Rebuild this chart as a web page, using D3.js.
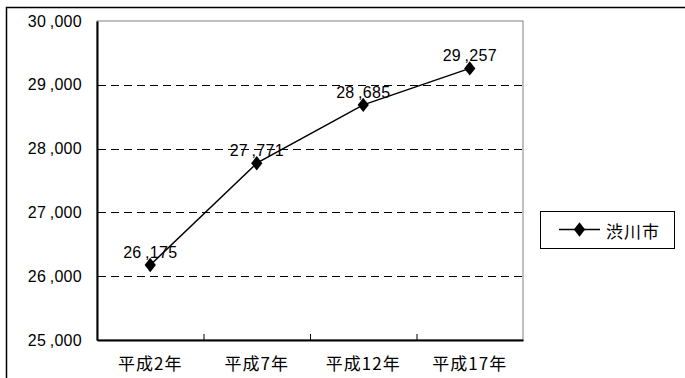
<!DOCTYPE html>
<html>
<head>
<meta charset="utf-8">
<script src="https://cdn.jsdelivr.net/npm/d3@7/dist/d3.min.js"></script>
<style>
  html, body { margin: 0; padding: 0; background: #fff; }
  svg { display: block; }
</style>
</head>
<body>
<svg id="chart" width="685" height="378"></svg>
<script>
// Population of 渋川市 by census year
const categories = ["平成2年", "平成7年", "平成12年", "平成17年"];
const population = [26175, 27771, 28685, 29257];
const yTicks = [25000, 26000, 27000, 28000, 29000, 30000];
const seriesName = "渋川市";

const svg = d3.select("#chart");
const plot = { left: 97, top: 21, right: 523, bottom: 340 };

const numFont = "'Liberation Sans', Arial, sans-serif";
const cjkFont = "'Noto Sans CJK JP', 'Noto Sans', sans-serif";
// thousands separator set slightly apart from the digits
const fmt = v => d3.format(",")(v).replace(",", "\u2009,");

// outer chart frame
svg.append("rect")
  .attr("x", 6.5).attr("y", 7.5)
  .attr("width", 720).attr("height", 420)
  .attr("fill", "none").attr("stroke", "#000").attr("stroke-width", 1.5);

const x = d3.scaleBand().domain(categories).range([plot.left, plot.right]);
const y = d3.scaleLinear().domain([25000, 30000]).range([plot.bottom, plot.top]);

// plot area border
svg.append("rect")
  .attr("x", plot.left).attr("y", plot.top)
  .attr("width", plot.right - plot.left).attr("height", plot.bottom - plot.top)
  .attr("fill", "none").attr("stroke", "#808080").attr("stroke-width", 1);

// dashed gridlines
svg.append("g").selectAll("line")
  .data(yTicks.filter(t => t > 25000 && t < 30000))
  .join("line")
  .attr("x1", plot.left + 1).attr("x2", plot.right - 1)
  .attr("y1", d => Math.round(y(d)) + 0.5).attr("y2", d => Math.round(y(d)) + 0.5)
  .attr("stroke", "#000").attr("stroke-width", 1)
  .attr("stroke-dasharray", "8,5");

// y axis
const yAxis = svg.append("g")
  .attr("transform", `translate(${plot.left},0)`)
  .call(d3.axisLeft(y).tickValues(yTicks).tickFormat(fmt).tickSize(0).tickPadding(15));
yAxis.select(".domain").attr("stroke", "#000").attr("stroke-width", 2);
yAxis.selectAll("text")
  .attr("font-family", numFont).attr("font-size", 16)
  .attr("letter-spacing", "0.3px").attr("fill", "#000");

// x axis with inward ticks at category boundaries
const xAxis = svg.append("g")
  .attr("transform", `translate(0,${plot.bottom})`)
  .call(d3.axisBottom(x).tickSize(0).tickPadding(18));
xAxis.select(".domain").attr("stroke", "#000").attr("stroke-width", 2);
xAxis.selectAll("text")
  .attr("font-family", cjkFont).attr("font-size", 17)
  .attr("letter-spacing", "1px").attr("fill", "#000");

svg.append("g").selectAll("line")
  .data(categories.slice(1))
  .join("line")
  .attr("x1", d => x(d) + 0.5).attr("x2", d => x(d) + 0.5)
  .attr("y1", plot.bottom).attr("y2", plot.bottom - 6)
  .attr("stroke", "#000").attr("stroke-width", 1);

// series line
const cx = d => x(d) + x.bandwidth() / 2;
const line = d3.line()
  .x((d, i) => cx(categories[i]))
  .y(d => y(d));

svg.append("path")
  .datum(population)
  .attr("d", line)
  .attr("fill", "none").attr("stroke", "#000").attr("stroke-width", 1.5);

const diamond = d3.symbol().type(d3.symbolDiamond).size(60);

svg.append("g").selectAll("path")
  .data(population)
  .join("path")
  .attr("d", diamond)
  .attr("transform", (d, i) => `translate(${cx(categories[i])},${y(d)}) scale(1.35,1)`)
  .attr("fill", "#000");

// value labels
svg.append("g").selectAll("text")
  .data(population)
  .join("text")
  .attr("x", (d, i) => cx(categories[i]))
  .attr("y", d => y(d) - 7)
  .attr("text-anchor", "middle")
  .attr("font-family", numFont).attr("font-size", 16)
  .attr("letter-spacing", "0.3px")
  .attr("fill", "#000")
  .text(d => fmt(d));

// legend
const lg = svg.append("g");
lg.append("rect")
  .attr("x", 540.5).attr("y", 211.5).attr("width", 134).attr("height", 37)
  .attr("fill", "#fff").attr("stroke", "#000").attr("stroke-width", 1);
lg.append("line")
  .attr("x1", 559).attr("x2", 600).attr("y1", 229.5).attr("y2", 229.5)
  .attr("stroke", "#000").attr("stroke-width", 1.5);
lg.append("path")
  .attr("d", diamond)
  .attr("transform", "translate(579.5,229.5) scale(1.35,1)")
  .attr("fill", "#000");
lg.append("text")
  .attr("x", 606).attr("y", 230)
  .attr("dominant-baseline", "central")
  .attr("font-family", cjkFont).attr("font-size", 17)
  .attr("letter-spacing", "1px").attr("fill", "#000")
  .text(seriesName);
</script>
</body>
</html>
